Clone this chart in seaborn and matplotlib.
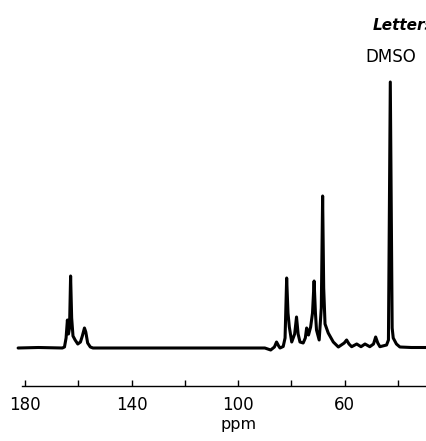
import matplotlib
matplotlib.use("Agg")
import matplotlib.pyplot as plt
import seaborn as sns

# traced spectrum (ppm, relative intensity)
ppm = [182.6, 175.0, 166.0, 165.2, 164.6, 164.1, 163.7, 163.3, 162.9, 162.5,
       162.0, 161.2, 160.2, 159.2, 158.5, 157.7, 157.2, 156.5, 155.5, 154.5,
       120.0, 95.0, 90.0, 87.8, 86.4, 85.6, 84.8, 84.3, 83.1, 82.4,
       81.8, 81.3, 80.8, 79.9, 78.8, 78.1, 77.5, 76.8, 75.6, 74.8,
       74.3, 73.6, 72.8, 72.1, 71.5, 71.0, 70.6, 69.6, 68.8, 68.3,
       67.9, 67.4, 66.2, 64.3, 62.4, 60.2, 59.3, 58.4, 57.4, 55.5,
       53.9, 52.4, 50.6, 49.2, 48.4, 47.6, 46.8, 44.3, 43.6, 42.9,
       42.2, 41.8, 40.6, 39.3, 35.0, 29.5]
intensity = [0, 0.5, 0, 1, 10, 28, 14, 20, 72, 30,
             12, 8, 4, 6, 12, 20, 16, 5, 1, 0,
             0, 0, 0, -2, 1, 6, 2, 0, 1.5, 10,
             70, 35, 21, 6, 14, 31, 14, 6, 5, 10,
             20, 13, 21, 35, 67, 35, 18, 8, 40, 152,
             60, 24, 15, 6, 1, 5, 8, 4, 1.3, 4,
             1.3, 4, 1.3, 4, 11, 5, 1.3, 3, 8, 266,
             20, 10, 4, 1, 0.5, 0.5]

major_ticks = [180, 140, 100, 60]
minor_ticks = [160, 120, 80, 40]
tick_labels = ["180", "140", "100", "60"]

sns.set_style("white")
plt.rcParams["font.family"] = ["DejaVu Sans"]
plt.rcParams["text.color"] = "black"
plt.rcParams["xtick.color"] = "black"
plt.rcParams["xtick.labelcolor"] = "black"

fig = plt.figure(figsize=(4.26, 4.41), dpi=100)
ax = fig.add_axes([0, 0, 1, 1])

sns.lineplot(x=ppm, y=intensity, sort=False, estimator=None, color="black",
             linewidth=2.2, ax=ax)

ax.set_xlim(189.4, 29.5)
ax.set_ylim(-93, 348)

for side in ["top", "left", "right"]:
    ax.spines[side].set_visible(False)
ax.spines["bottom"].set_position(("data", -38))
ax.spines["bottom"].set_bounds(181, 29.5)
ax.spines["bottom"].set_linewidth(1.0)
ax.spines["bottom"].set_color("black")

ax.set_yticks([])
ax.set_xticks(major_ticks)
ax.set_xticklabels(tick_labels)
ax.set_xticks(minor_ticks, minor=True)
ax.tick_params(axis="x", which="both", direction="in", length=4, width=1,
               color="black", bottom=True)
ax.tick_params(axis="x", which="major", labelsize=12, pad=7)

ax.text(100, -76, "ppm", ha="center", va="center", fontsize=11.5)
ax.text(42.6, 291, "DMSO", ha="center", va="center", fontsize=12)
# running head of the journal page, clipped at the right edge as in the scan
fig.text(373 / 426, 1 - 25 / 441, "Letters", ha="left", va="center",
         fontsize=11, fontweight="bold", fontstyle="italic")

fig.savefig("out.png", dpi=100)
